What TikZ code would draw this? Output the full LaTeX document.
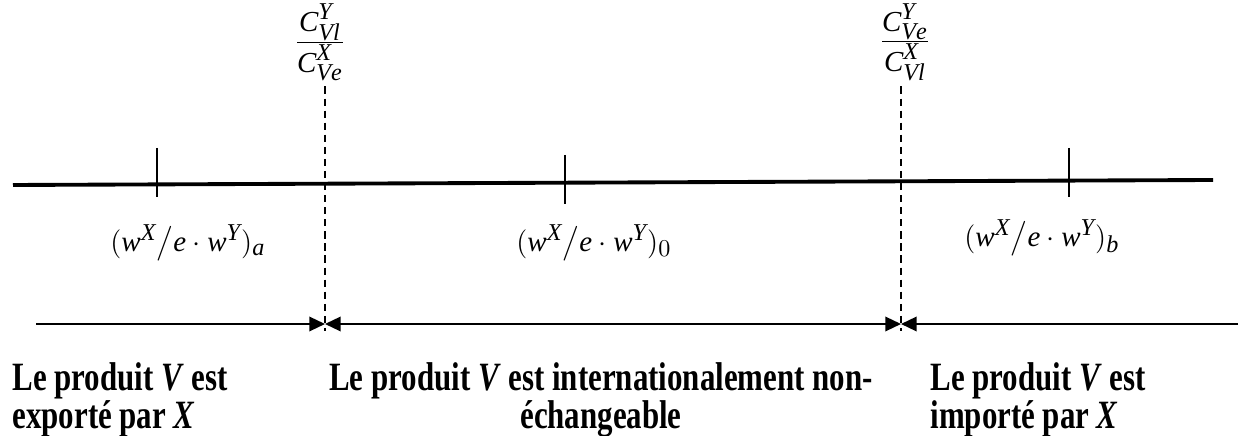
\documentclass[tikz,border=0pt]{standalone}
\usepackage{amsmath}
\usepackage{fontspec}
\setmainfont{Liberation Serif}
\usepackage[italic]{mathastext}
\usetikzlibrary{arrows.meta}

\tikzset{
  axis/.style={line width=1.6pt},
  tick/.style={line width=0.8pt},
  bound/.style={line width=0.6pt, dash pattern=on 3pt off 2pt},
  arr/.style={line width=0.8pt},
  tip/.tip={Triangle[length=6.5pt,width=6pt]},
  lab/.style={inner sep=0pt, font=\fontsize{12}{14}\selectfont},
  ratio/.style={inner sep=0pt, font=\fontsize{12}{14}\selectfont},
  zone/.style={inner sep=0pt, yscale=1.3,
    font=\fontsize{12.8}{12.2}\selectfont\bfseries,
    execute at begin node={\lineskiplimit=-20pt\relax}}
}
\newcommand{\costratio}[4]{%
  $\frac{\displaystyle C^{#1}_{#2}}{\displaystyle C^{#3}_{#4}}$}

\begin{document}
\begin{tikzpicture}[x=0.01456cm,y=-0.01456cm]
\useasboundingbox (0,0) rectangle (1242,436);

% main line with the three ticks
\coordinate (axL) at (13,185);
\coordinate (axR) at (1213,180);
\draw[axis] (axL) -- (axR);
\draw[tick] (157,148) -- (157,197);
\draw[tick] (565,155) -- (565,204);
\draw[tick] (1069,148) -- (1069,197);

% relative wages
\node[lab] (wa) at (188,243) {$(w^{X}\big/e\cdot w^{Y})_{a}$};
\node[lab] (w0) at (594,243) {$(w^{X}\big/e\cdot w^{Y})_{0}$};
\node[lab] (wb) at (1042,238) {$(w^{X}\big/e\cdot w^{Y})_{b}$};

% bounds
\coordinate (aM1) at (325,324);
\coordinate (aM2) at (901,324);
\node[ratio, anchor=north] (fracL) at (320,3) {\costratio{Y}{Vl}{X}{Ve}};
\node[ratio, anchor=north] (fracR) at (905,3) {\costratio{Y}{Ve}{X}{Vl}};
\coordinate (dLb) at (325,331);
\coordinate (dRb) at (901,331);
\draw[bound] ([yshift=-2pt]fracL.south -| aM1) -- (dLb);
\draw[bound] ([yshift=-2pt]fracR.south -| aM2) -- (dRb);

% zones
\coordinate (aL) at (36,324);
\coordinate (aR) at (1238,324);
\draw[arr,-tip] (aL) -- (aM1);
\draw[arr,tip-tip] (aM1) -- (aM2);
\draw[arr,-tip] (aR) -- (aM2);

\node[zone, anchor=north west, align=left] (zX) at (12,362)
  {Le produit \textit{V} est\\exporté par \textit{X}};
\node[zone, anchor=north, align=center] (zN) at (601,362)
  {Le produit \textit{V} est internationalement non-\\échangeable};
\node[zone, anchor=north west, align=left] (zM) at (930,362)
  {Le produit \textit{V} est\\importé par \textit{X}};
\end{tikzpicture}
\end{document}
